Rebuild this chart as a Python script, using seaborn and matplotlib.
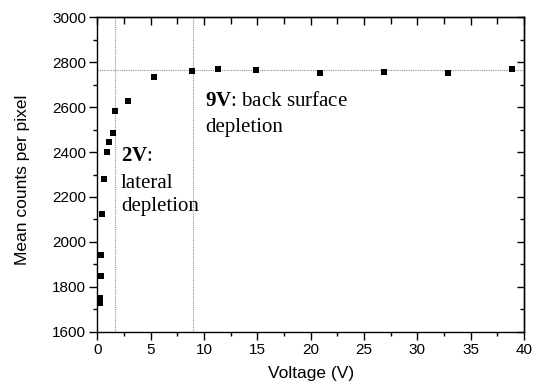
import matplotlib
matplotlib.use("Agg")
import matplotlib.pyplot as plt
from matplotlib.ticker import MultipleLocator
import seaborn as sns
import pandas as pd

# ---- data ----
voltage = [0.25, 0.25, 0.31, 0.37, 0.47, 0.59, 0.87, 1.12, 1.50, 1.62,
           2.87, 5.28, 8.86, 11.28, 14.87, 20.87, 26.87, 32.83, 38.87]
counts = [1750, 1729, 1847, 1943, 2122, 2278, 2398, 2443, 2487, 2584,
          2627, 2734, 2762, 2772, 2766, 2753, 2757, 2752, 2768]
plateau_level = 2764
lateral_v = 1.65
back_v = 9.0
x_ticks = [0, 5, 10, 15, 20, 25, 30, 35, 40]
y_ticks = [1600, 1800, 2000, 2200, 2400, 2600, 2800, 3000]
x_label = "Voltage (V)"
y_label = "Mean counts per pixel"

df = pd.DataFrame({"Voltage": voltage, "Counts": counts})

sns.set_theme(style="ticks")
plt.rcParams["font.family"] = ["Liberation Sans", "DejaVu Sans"]
plt.rcParams["text.color"] = "black"
plt.rcParams["axes.labelcolor"] = "black"
plt.rcParams["xtick.color"] = "black"
plt.rcParams["ytick.color"] = "black"
plt.rcParams["mathtext.fontset"] = "custom"
plt.rcParams["mathtext.rm"] = "Liberation Serif"
plt.rcParams["mathtext.bf"] = "Liberation Serif:bold"

fig = plt.figure(figsize=(5.37, 3.89), dpi=100)
ax = fig.add_axes([0.1812, 0.1473, 0.9758 - 0.1812, 0.9555 - 0.1473])

# reference lines
ax.axhline(plateau_level, color="#8f8f8f", lw=0.8, ls=(0, (1, 1)), zorder=1)
ax.axvline(lateral_v, color="#8f8f8f", lw=0.8, ls=(0, (1, 1)), zorder=1)
ax.axvline(back_v, color="#8f8f8f", lw=0.8, ls=(0, (1, 1)), zorder=1)

sns.scatterplot(data=df, x="Voltage", y="Counts", marker="s", s=24,
                color="black", edgecolor="black", linewidth=0, ax=ax, zorder=3)

ax.set_xlim(0, 40)
ax.set_ylim(1600, 3000)
ax.set_xticks(x_ticks)
ax.set_yticks(y_ticks)
ax.xaxis.set_minor_locator(MultipleLocator(2.5))
ax.yaxis.set_minor_locator(MultipleLocator(100))

for s in ax.spines.values():
    s.set_color("black")
    s.set_linewidth(1.0)

ax.tick_params(which="major", direction="out", length=6, width=1.0,
               color="black", labelsize=11, pad=2, labelcolor="black")
ax.tick_params(which="minor", direction="out", length=3, width=1.0, color="black")

# inward ticks on top and right
top = ax.secondary_xaxis("top")
top.set_xticks(x_ticks)
top.xaxis.set_minor_locator(MultipleLocator(2.5))
top.tick_params(which="both", direction="in", labeltop=False, width=1.0, color="black")
top.tick_params(which="major", length=6)
top.tick_params(which="minor", length=5)
right = ax.secondary_yaxis("right")
right.set_yticks(y_ticks)
right.yaxis.set_minor_locator(MultipleLocator(100))
right.tick_params(which="both", direction="in", labelright=False, width=1.0, color="black")
right.tick_params(which="major", length=5)
right.tick_params(which="minor", length=3)
top.spines["top"].set_linewidth(1.0)
right.spines["right"].set_linewidth(1.0)

ax.set_xlabel(x_label, fontsize=12.5, color="black")
ax.set_ylabel(y_label, fontsize=12.5, color="black")
ax.xaxis.set_label_coords(0.5, -0.109)
ax.yaxis.set_label_coords(-0.158, 0.4825)

serif = ["Liberation Serif", "DejaVu Serif"]
tfs = 15
ax.text(2.22, 2359, r"$\mathbf{2V}$:", fontsize=tfs, family=serif, va="baseline", color="black")
ax.text(2.22, 2240, "lateral", fontsize=tfs, family=serif, va="baseline", color="black")
ax.text(2.22, 2136, "depletion", fontsize=tfs, family=serif, va="baseline", color="black")
ax.text(10.1, 2604, r"$\mathbf{9V}$: back surface", fontsize=tfs, family=serif, va="baseline", color="black")
ax.text(10.1, 2490, "depletion", fontsize=tfs, family=serif, va="baseline", color="black")

fig.savefig("out.png", dpi=100, facecolor="white")
